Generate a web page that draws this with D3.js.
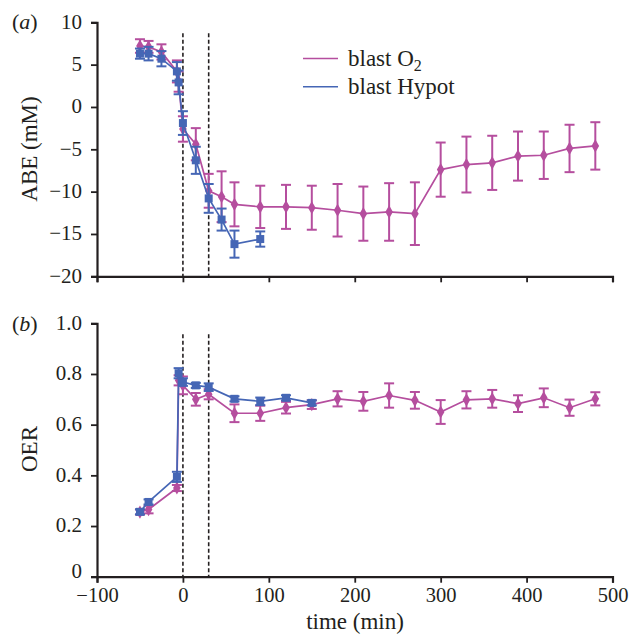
<!DOCTYPE html>
<html><head><meta charset="utf-8">
<script src="https://cdn.jsdelivr.net/npm/d3@7"></script>
<style>
html,body{margin:0;padding:0;background:#fff;}
svg{display:block;font-family:"Liberation Serif","Times New Roman",serif;}
</style></head>
<body>
<svg id="chart" width="640" height="644"></svg>
<script>
// ---------- data ----------
const seriesNames = ["blast O\u2082", "blast Hypot"];
const xTicks = [-100, 0, 100, 200, 300, 400, 500];
const xTickLabels = ["\u2212100", "0", "100", "200", "300", "400", "500"];
const abeTicks = [10, 5, 0, -5, -10, -15, -20];
const abeTickLabels = ["10", "5", "0", "\u22125", "\u221210", "\u221215", "\u221220"];
const oerTicks = [0, 0.2, 0.4, 0.6, 0.8, 1.0];
const oerTickLabels = ["0", "0.2", "0.4", "0.6", "0.8", "1.0"];
const markerLines = [0, 30];

// panel (a) ABE
const abeTimeO2 = [-50, -40, -25, -7, -5, 0, 15, 30, 45, 60, 90, 120, 150, 180, 210, 240, 270, 300, 330, 360, 390, 420, 450, 480];
const abeO2 = [7.2, 7.1, 6.5, 4.2, 3.0, -2.6, -4.4, -9.9, -10.6, -11.5, -11.8, -11.8, -11.9, -12.2, -12.6, -12.4, -12.6, -7.4, -6.8, -6.6, -5.8, -5.7, -4.9, -4.6];
const abeO2Err = [0.8, 0.7, 0.9, 1.3, 1.2, 1.5, 1.9, 2.0, 3.0, 2.6, 2.5, 2.6, 2.6, 3.1, 3.2, 3.4, 3.7, 3.2, 3.3, 3.2, 2.9, 2.8, 2.8, 2.8];
const abeTimeHyp = [-50, -40, -25, -7, -5, 0, 15, 30, 45, 60, 90];
const abeHyp = [6.3, 6.3, 5.7, 4.2, 2.9, -1.9, -6.3, -10.8, -13.3, -16.2, -15.6];
const abeHypErr = [0.6, 0.8, 0.9, 1.1, 1.4, 1.4, 1.6, 1.7, 1.3, 1.6, 0.9];

// panel (b) OER
const oerTimeO2 = [-50, -40, -7, -5, 0, 15, 30, 60, 90, 120, 150, 180, 210, 240, 270, 300, 330, 360, 390, 420, 450, 480];
const oerO2 = [0.255, 0.265, 0.35, 0.775, 0.755, 0.70, 0.72, 0.645, 0.645, 0.667, 0.679, 0.702, 0.692, 0.715, 0.696, 0.650, 0.698, 0.702, 0.683, 0.706, 0.667, 0.702];
const oerO2Err = [0.01, 0.015, 0.012, 0.02, 0.035, 0.025, 0.02, 0.035, 0.03, 0.023, 0.017, 0.03, 0.037, 0.048, 0.033, 0.047, 0.034, 0.035, 0.033, 0.037, 0.032, 0.026];
const oerTimeHyp = [-50, -40, -7, -5, 0, 15, 30, 60, 90, 120, 150];
const oerHyp = [0.256, 0.295, 0.394, 0.803, 0.768, 0.755, 0.748, 0.702, 0.692, 0.706, 0.686];
const oerHypErr = [0.01, 0.01, 0.02, 0.02, 0.015, 0.01, 0.015, 0.01, 0.015, 0.01, 0.01];

// ---------- drawing ----------
const pink = "#b54e9e";
const blue = "#4566b5";
const ink = "#231f20";
const FONT = "'Liberation Serif', 'Times New Roman', serif";
const svg = d3.select("#chart");

const x = d3.scaleLinear().domain([-100, 500]).range([97, 612.5]);
const yA = d3.scaleLinear().domain([-20, 10]).range([276.3, 22.3]);
const yB = d3.scaleLinear().domain([0, 1]).range([576.7, 323.3]);

function styleAxis(g, size) {
  g.select(".domain").attr("stroke", ink).attr("stroke-width", 2.2);
  g.selectAll(".tick line").attr("stroke", ink).attr("stroke-width", 1.8);
  g.selectAll(".tick text").attr("fill", ink).attr("font-size", size)
    .attr("font-family", FONT);
}

function panel(y, yTicks, yLabels, yTitle, tag, tagY, titleY, showXLabels) {
  const g = svg.append("g");
  // x axis
  const xa = g.append("g").attr("transform", `translate(0,${y.range()[0]})`)
    .call(d3.axisBottom(x).tickValues(xTicks).tickSize(6).tickPadding(5)
      .tickFormat((d, i) => showXLabels ? xTickLabels[i] : ""));
  styleAxis(xa, 20.5);
  xa.selectAll(".tick text").attr("dy", "0.71em");
  // y axis
  const ya = g.append("g").attr("transform", `translate(${x.range()[0]},0)`)
    .call(d3.axisLeft(y).tickValues(yTicks).tickSize(6).tickPadding(9)
      .tickFormat((d, i) => yLabels[i]));
  styleAxis(ya, 21);
  ya.selectAll(".tick text").attr("dy", d => (showXLabels && d === 0) ? "0.05em" : "0.28em");
  // dashed markers
  const top = y.range()[1] + 11;
  g.selectAll("line.mark").data(markerLines).join("line").attr("class", "mark")
    .attr("x1", d => x(d)).attr("x2", d => x(d))
    .attr("y1", top).attr("y2", y.range()[0])
    .attr("stroke", ink).attr("stroke-width", 1.6).attr("stroke-dasharray", "4,2.5");
  // y title
  g.append("text").attr("transform", `translate(37,${titleY}) rotate(-90)`)
    .attr("text-anchor", "middle").attr("font-size", 23).attr("fill", ink)
    .attr("font-family", FONT).text(yTitle);
  // tag
  const t = g.append("text").attr("x", 12).attr("y", tagY).attr("font-size", 22)
    .attr("fill", ink).attr("font-family", FONT);
  t.append("tspan").text("(");
  t.append("tspan").attr("font-style", "italic").text(tag);
  t.append("tspan").text(")");
  return g;
}

function series(g, y, times, vals, errs, color, shape) {
  const pts = times.map((t, i) => ({t, v: vals[i], e: errs[i]}));
  const eg = g.append("g").attr("stroke", color).attr("stroke-width", 2);
  pts.forEach(p => {
    eg.append("line").attr("x1", x(p.t)).attr("x2", x(p.t)).attr("y1", y(p.v - p.e)).attr("y2", y(p.v + p.e));
    eg.append("line").attr("x1", x(p.t) - 5).attr("x2", x(p.t) + 5).attr("y1", y(p.v - p.e)).attr("y2", y(p.v - p.e));
    eg.append("line").attr("x1", x(p.t) - 5).attr("x2", x(p.t) + 5).attr("y1", y(p.v + p.e)).attr("y2", y(p.v + p.e));
  });
  g.append("path").datum(pts)
    .attr("d", d3.line().x(p => x(p.t)).y(p => y(p.v)))
    .attr("fill", "none").attr("stroke", color).attr("stroke-width", 1.7);
  const sym = d3.symbol().type(shape === "square" ? d3.symbolSquare : d3.symbolDiamond)
    .size(shape === "square" ? 64 : 50);
  g.append("g").selectAll("path").data(pts).join("path")
    .attr("transform", p => `translate(${x(p.t)},${y(p.v)})`)
    .attr("d", sym).attr("fill", color);
}

const gA = panel(yA, abeTicks, abeTickLabels, "ABE (mM)", "a", 29, 149, false);
series(gA, yA, abeTimeO2, abeO2, abeO2Err, pink, "diamond");
series(gA, yA, abeTimeHyp, abeHyp, abeHypErr, blue, "square");

const gB = panel(yB, oerTicks, oerTickLabels, "OER", "b", 331, 449, true);
series(gB, yB, oerTimeO2, oerO2, oerO2Err, pink, "diamond");
series(gB, yB, oerTimeHyp, oerHyp, oerHypErr, blue, "square");

// x title
svg.append("text").attr("x", 355).attr("y", 629).attr("text-anchor", "middle")
  .attr("font-size", 23).attr("fill", ink).attr("font-family", FONT).text("time (min)");

// legend
const leg = svg.append("g");
[[pink, 58.5, 65.5], [blue, 86.7, 94]].forEach(([c, ly, ty], i) => {
  leg.append("line").attr("x1", 303).attr("x2", 338).attr("y1", ly).attr("y2", ly)
    .attr("stroke", c).attr("stroke-width", 1.5);
  const t = leg.append("text").attr("x", 348).attr("y", ty).attr("font-size", 23)
    .attr("fill", ink).attr("font-family", FONT);
  if (i === 0) {
    t.append("tspan").text("blast O");
    t.append("tspan").attr("font-size", 16).attr("dy", 5).text("2");
  } else {
    t.text(seriesNames[1]);
  }
});
</script>
</body></html>
